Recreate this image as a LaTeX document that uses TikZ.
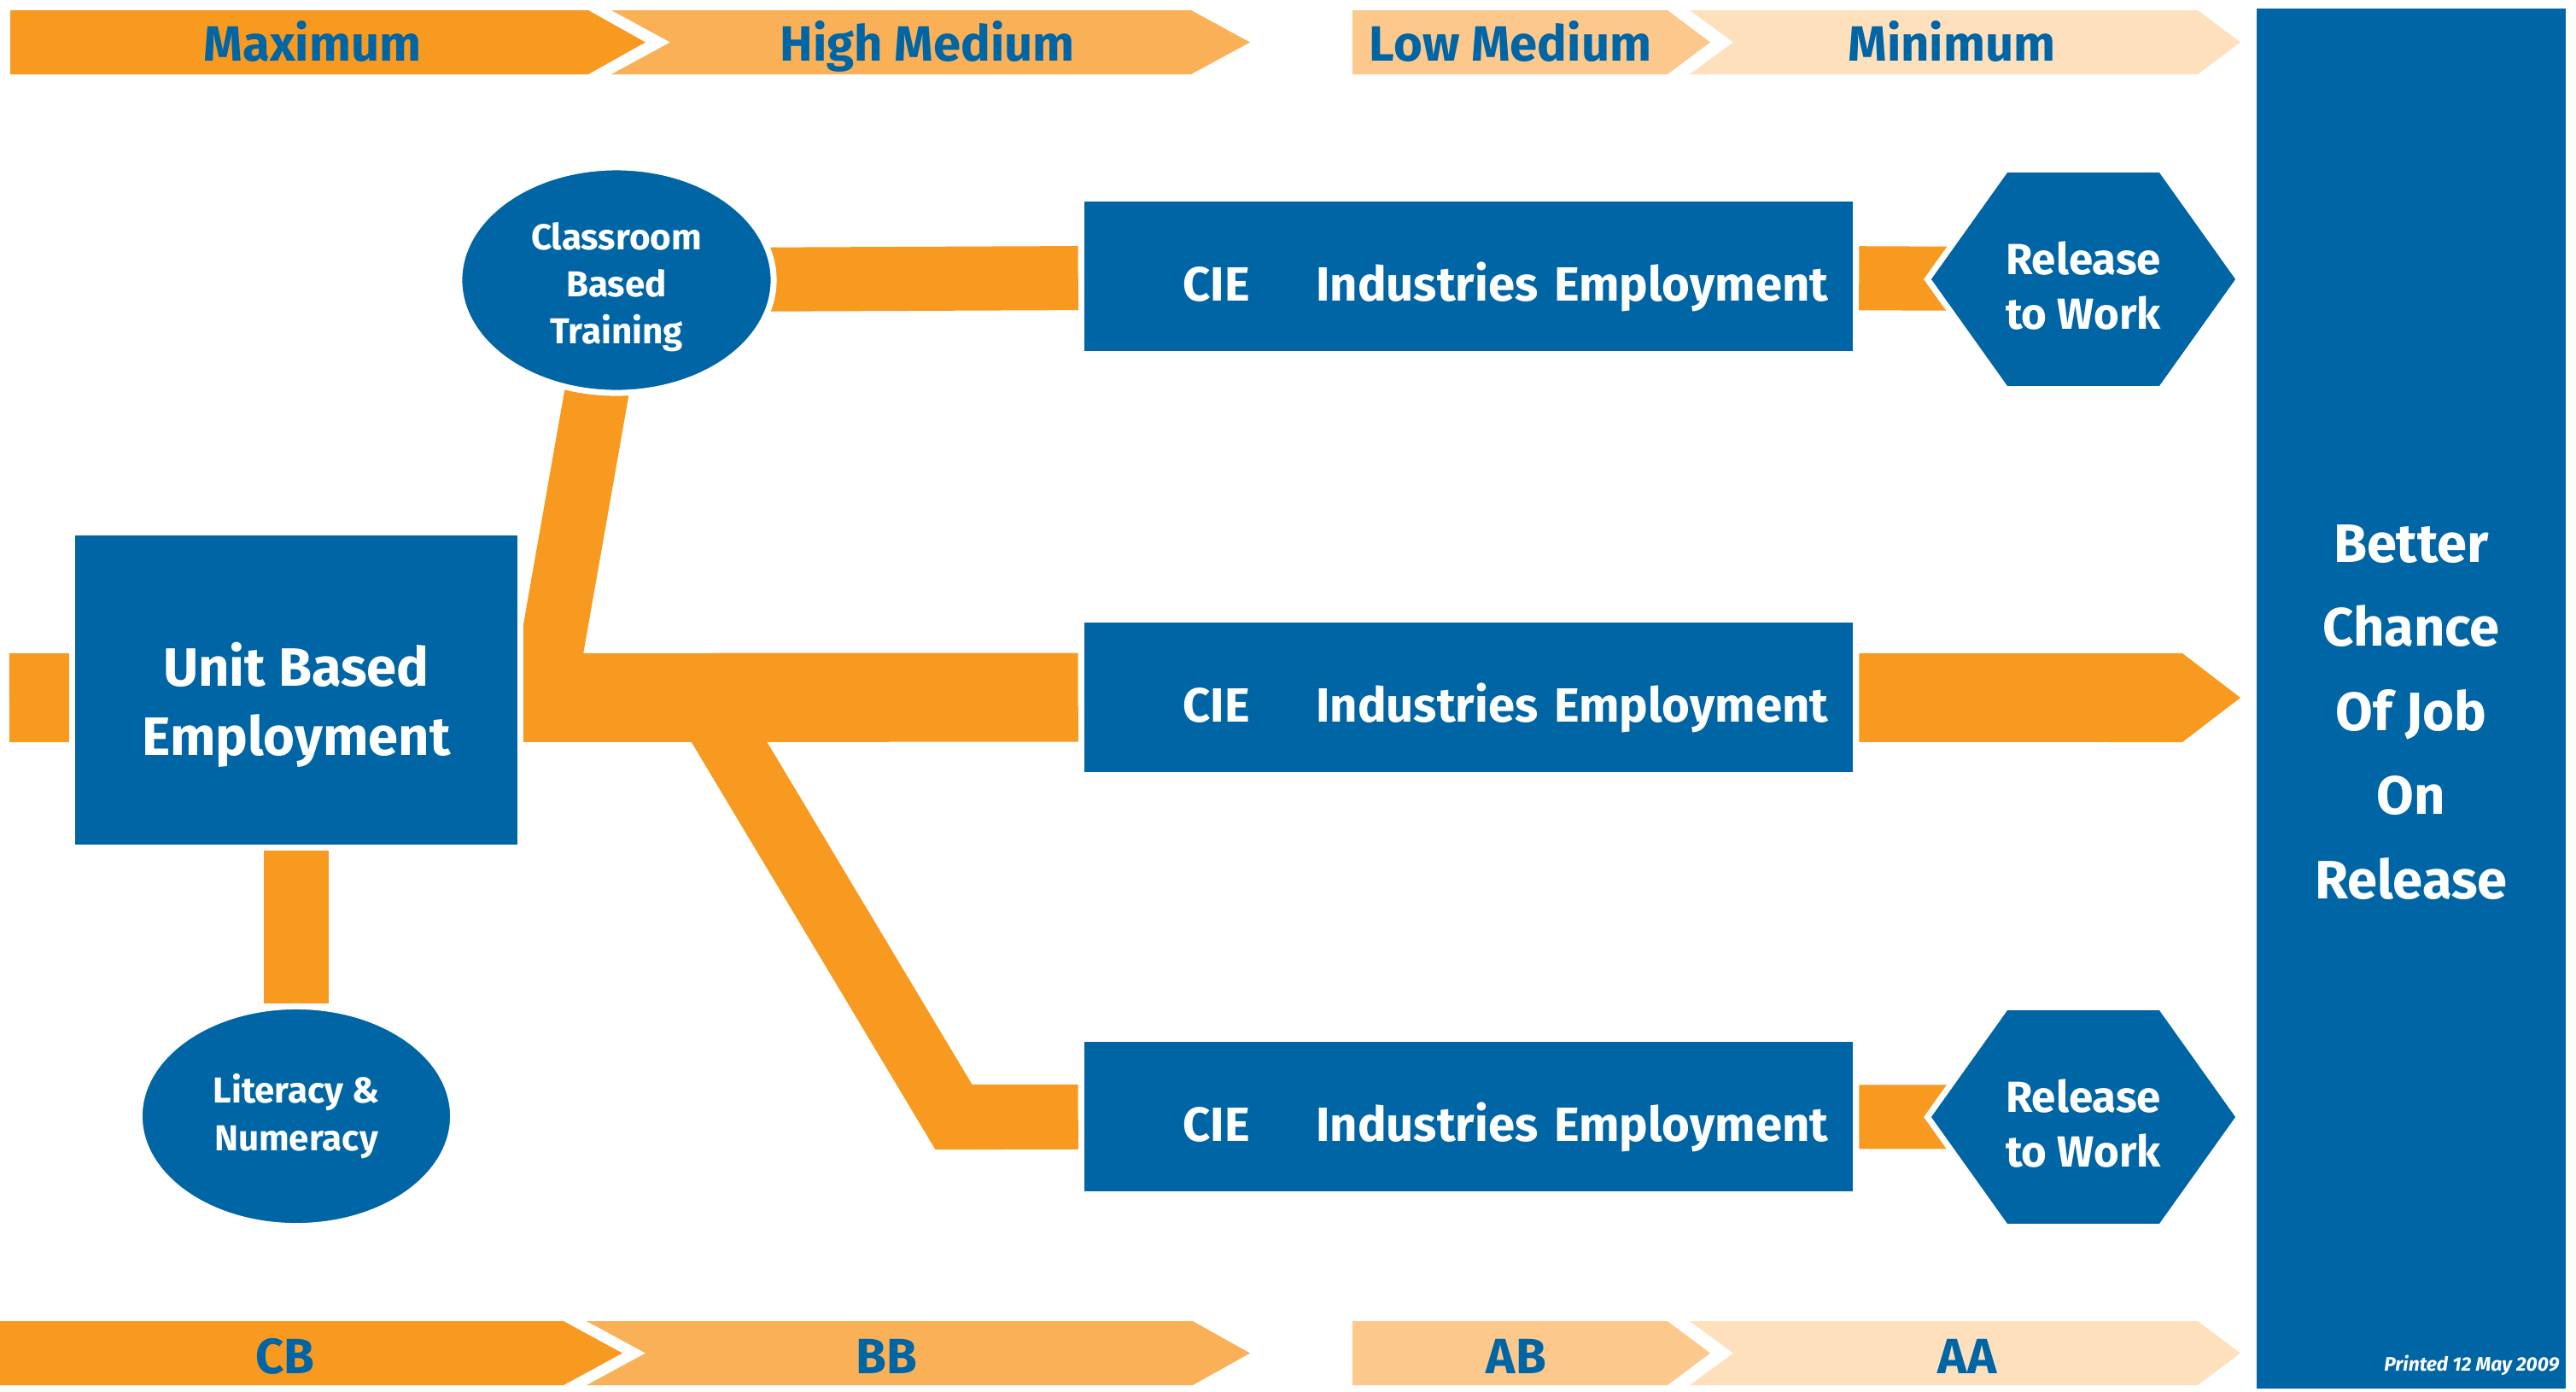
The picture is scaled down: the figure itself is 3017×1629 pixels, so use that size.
\documentclass[tikz,border=0pt]{standalone}
\usepackage{fontspec}
\setmainfont{Fira Sans}
\usepackage{tikz}
\usetikzlibrary{positioning, backgrounds, shapes}

\definecolor{jobblue}{RGB}{0,101,165}
\definecolor{floworange}{RGB}{248,153,32}
\definecolor{highmed}{RGB}{250,176,87}
\definecolor{lowmed}{RGB}{253,200,140}
\definecolor{leastor}{RGB}{254,224,189}

\tikzset{
        x=0.01cm, y=-0.01cm, % one unit is one pixel of the sheet, counted downwards
        every node/.style={inner sep=0pt, text depth=0pt}, % text heights are set per node
        flow/.style={draw=floworange, line width=0.75cm}, % orange band between two boxes
        main flow/.style={flow, line width=1.04cm},
    }
\tikzstyle{block}=[rectangle, fill=jobblue, draw=white, line width=0.07cm, text=white, align=center, font=\bfseries]
\tikzstyle{bubble}=[block, ellipse, font=\bfseries\fontsize{12}{15.7}\selectfont]
\tikzstyle{cie}=[block, minimum width=9.07cm, minimum height=1.81cm, text width=8.42cm, align=right, text height=0.57cm, font=\bfseries\fontsize{16}{19}\selectfont]
\tikzstyle{outlet}=[block, signal, signal to=east and west, signal pointer angle=109, minimum width=3.62cm, minimum height=2.57cm, text height=1.16cm, font=\bfseries\fontsize{14.5}{18}\selectfont]
\tikzstyle{tier}=[anchor=base, text=jobblue, font=\bfseries\fontsize{16.5}{19}\selectfont]

\begin{document}
\begin{tikzpicture}
    \useasboundingbox (0,0) rectangle (3017,1629);

    % level banners, top and bottom
    \fill[floworange] (12,12) -- (689,12) -- (756,49.5) -- (689,87) -- (12,87) -- cycle;
    \fill[highmed] (716,12) -- (1395,12) -- (1464,49.5) -- (1395,87) -- (716,87) -- (785,49.5) -- cycle;
    \fill[lowmed] (1584,12) -- (1953,12) -- (2003,49.5) -- (1953,87) -- (1584,87) -- cycle;
    \fill[leastor] (1979,12) -- (2574,12) -- (2624,49.5) -- (2574,87) -- (1979,87) -- (2030,49.5) -- cycle;
    \fill[floworange] (0,1547) -- (660,1547) -- (729,1584.5) -- (660,1622) -- (0,1622) -- cycle;
    \fill[highmed] (687,1547) -- (1397,1547) -- (1464,1584.5) -- (1397,1622) -- (687,1622) -- (756,1584.5) -- cycle;
    \fill[lowmed] (1584,1547) -- (1953,1547) -- (2003,1584.5) -- (1953,1622) -- (1584,1622) -- cycle;
    \fill[leastor] (1979,1547) -- (2574,1547) -- (2624,1584.5) -- (2574,1622) -- (1979,1622) -- (2030,1584.5) -- cycle;

    \node[tier] (maximum) at (366,71) {Maximum};
    \node[tier] (highmedium) at (1086,71) {High Medium};
    \node[tier] (lowmedium) at (1769,71) {Low Medium};
    \node[tier] (minimal) at (2286,71) {Minimum};
    \node[tier] (cb) at (334,1608) {CB};
    \node[tier] (bb) at (1038,1608) {BB};
    \node[tier] (ab) at (1776,1608) {AB};
    \node[tier] (aa) at (2304,1608) {AA};

    \node[block, minimum width=5.25cm, minimum height=3.69cm, text height=1.52cm,
          font=\bfseries\fontsize{18}{23}\selectfont] (ube) at (347,808) {Unit Based\\Employment};
    \node[bubble, minimum width=3.67cm, minimum height=2.57cm, text height=0.8cm] (literacy) at (347,1307) {Literacy \&\\Numeracy};
    \node[bubble, minimum width=3.68cm, minimum height=2.64cm, text height=1.49cm] (classroom) at (722,328) {Classroom\\Based\\Training};

    \node[cie] (cie1) at (1720,323.5) {CIE\hspace{0.77cm}Industries Employment};
    \node[cie] (cie2) at (1720,816.5) {CIE\hspace{0.77cm}Industries Employment};
    \node[cie] (cie3) at (1720,1307.5) {CIE\hspace{0.77cm}Industries Employment};

    \node[outlet] (work1) at (2440,327) {Release\\to Work};
    \node[outlet] (work2) at (2440,1308) {Release\\to Work};

    \node[block, minimum width=3.69cm, minimum height=16.23cm, text height=4.68cm,
          font=\bfseries\fontsize{18}{28}\selectfont] (chance) at (2824,818) {Better\\Chance\\Of Job\\On\\Release};
    \node[anchor=base east, text=white, font=\bfseries\itshape\fontsize{6.5}{8}\selectfont] (printed) at (2998,1605) {Printed 12 May 2009};

    \coordinate (feed) at (11,817);
    \coordinate (fork) at (636,817);
    \coordinate (split) at (823,817);
    \coordinate (bend) at (1117,1308);
    \coordinate (goal) at (2556,817);

    \begin{scope}[on background layer]
        \draw[main flow] (feed) -- (cie2);
        \draw[flow] (fork) -- (classroom.center);
        \draw[flow] (classroom.center) -- (cie1);
        \draw[flow, line width=0.76cm, line join=miter] (split) -- (bend) -- (cie3);
        \draw[flow] (ube) -- (literacy);
        \draw[flow] (cie1) -- (work1.center);
        \draw[flow] (cie3) -- (work2.center);
        \draw[main flow] (cie2) -- (goal);
        \fill[floworange] (goal) ++(0,-52) -- ++(68,52) -- ++(-68,52) -- cycle;
    \end{scope}
\end{tikzpicture}
\end{document}
